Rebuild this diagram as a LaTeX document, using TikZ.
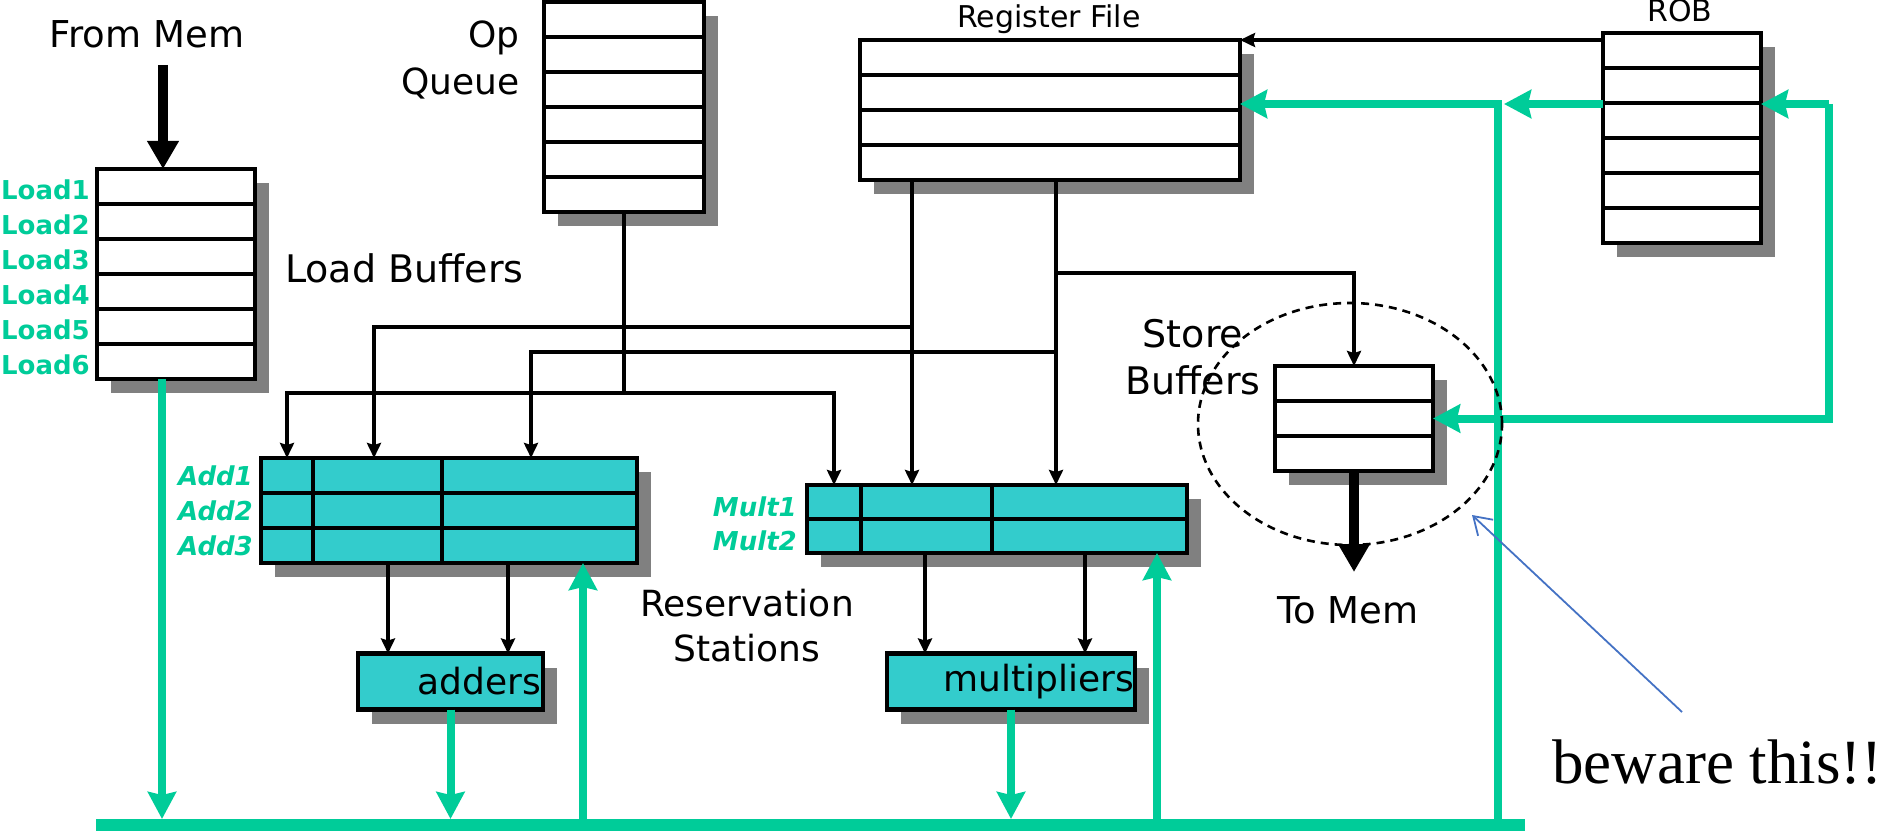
\documentclass[tikz,border=0pt]{standalone}
\usepackage{fontspec}
\setmainfont{DejaVu Sans}
\newfontfamily\notefont{Liberation Serif}
\usetikzlibrary{arrows.meta, shadows}

\definecolor{cdbgreen}{RGB}{0,204,153}
\definecolor{rsfill}{RGB}{51,204,204}
\definecolor{shade}{RGB}{128,128,128}
\definecolor{noteblue}{RGB}{68,114,196}

\begin{document}
\begin{tikzpicture}[x=1pt, y=-1pt]
	\tikzstyle{Row} = [rectangle, draw=black, line width=4.5pt, fill=white, inner sep=0pt, outer sep=0pt, minimum height=35pt, drop shadow={shadow xshift=14pt, shadow yshift=-14pt, fill=shade, opacity=1}]
	\tikzstyle{Cell} = [Row, fill=rsfill]
	\tikzstyle{Tag} = [text=cdbgreen, font=\bfseries\fontsize{26}{28}\selectfont, anchor=east, inner sep=0pt]
	\tikzstyle{ITag} = [Tag, font=\bfseries\itshape\fontsize{26}{28}\selectfont]
	\tikzstyle{Title} = [font=\fontsize{37}{45}\selectfont, inner sep=0pt]
	\tikzstyle{Small} = [font=\fontsize{30}{32}\selectfont, inner sep=0pt]
	\tikzstyle{arrow} = [line width=4pt, -{Stealth[length=15pt, width=14pt, inset=2pt]}]
	\tikzstyle{Fat} = [line width=10pt, -{Triangle[length=28pt, width=30pt]}]
	\tikzstyle{Cdb} = [line width=8pt, draw=cdbgreen, -{Stealth[length=27pt, width=28pt, inset=3pt]}, cdbgreen]

	\useasboundingbox (0,0) rectangle (1884,832);

	% load buffers
	\node (l1) [Row, minimum width=158pt] at (176,186.5) {};
	\node (l2) [Row, minimum width=158pt] at (176,221.5) {};
	\node (l3) [Row, minimum width=158pt] at (176,256.5) {};
	\node (l4) [Row, minimum width=158pt] at (176,291.5) {};
	\node (l5) [Row, minimum width=158pt] at (176,326.5) {};
	\node (l6) [Row, minimum width=158pt] at (176,361.5) {};
	\node [Tag] at (90,190) {Load1};
	\node [Tag] at (90,225) {Load2};
	\node [Tag] at (90,260) {Load3};
	\node [Tag] at (90,295) {Load4};
	\node [Tag] at (90,330) {Load5};
	\node [Tag] at (90,365) {Load6};
	\node (frommem) [Title, anchor=base] at (147,48) {From Mem};
	\node (loadtxt) [Title, font=\fontsize{38}{45}\selectfont, anchor=base west] at (285,282) {Load Buffers};

	% op queue
	\node (q1) [Row, minimum width=160pt] at (624,19.5) {};
	\node (q2) [Row, minimum width=160pt] at (624,54.5) {};
	\node (q3) [Row, minimum width=160pt] at (624,89.5) {};
	\node (q4) [Row, minimum width=160pt] at (624,124.5) {};
	\node (q5) [Row, minimum width=160pt] at (624,159.5) {};
	\node (q6) [Row, minimum width=160pt] at (624,194.5) {};
	\node (optxt) [Title, font=\fontsize{36}{47}\selectfont, anchor=north east, align=right] at (520,21) {Op\\Queue};

	% register file
	\node (r1) [Row, minimum width=380pt] at (1050,57.5) {};
	\node (r2) [Row, minimum width=380pt] at (1050,92.5) {};
	\node (r3) [Row, minimum width=380pt] at (1050,127.5) {};
	\node (r4) [Row, minimum width=380pt] at (1050,162.5) {};
	\node (rftxt) [Small, anchor=base] at (1049,28) {Register File};

	% reorder buffer
	\node (o1) [Row, minimum width=158pt] at (1682,50.5) {};
	\node (o2) [Row, minimum width=158pt] at (1682,85.5) {};
	\node (o3) [Row, minimum width=158pt] at (1682,120.5) {};
	\node (o4) [Row, minimum width=158pt] at (1682,155.5) {};
	\node (o5) [Row, minimum width=158pt] at (1682,190.5) {};
	\node (o6) [Row, minimum width=158pt] at (1682,225.5) {};
	\node (robtxt) [Small, anchor=base] at (1680,22) {ROB};

	% store buffers
	\node (s1) [Row, minimum width=158pt] at (1354,383.5) {};
	\node (s2) [Row, minimum width=158pt] at (1354,418.5) {};
	\node (s3) [Row, minimum width=158pt] at (1354,453.5) {};
	\node (sbtxt) [Title, font=\fontsize{38}{47}\selectfont, anchor=north, align=center] at (1193,319) {Store\\Buffers};
	\node (tomem) [Title, anchor=base] at (1348,623) {To Mem};

	% reservation stations (adders)
	\node (a11) [Cell, minimum width=52pt] at (287,475.5) {};
	\node (a12) [Cell, minimum width=129pt] at (377.5,475.5) {};
	\node (a13) [Cell, minimum width=195pt] at (539.5,475.5) {};
	\node (a21) [Cell, minimum width=52pt] at (287,510.5) {};
	\node (a22) [Cell, minimum width=129pt] at (377.5,510.5) {};
	\node (a23) [Cell, minimum width=195pt] at (539.5,510.5) {};
	\node (a31) [Cell, minimum width=52pt] at (287,545.5) {};
	\node (a32) [Cell, minimum width=129pt] at (377.5,545.5) {};
	\node (a33) [Cell, minimum width=195pt] at (539.5,545.5) {};
	\node [ITag] at (253,475.5) {Add1};
	\node [ITag] at (253,510.5) {Add2};
	\node [ITag] at (253,545.5) {Add3};

	% reservation stations (multipliers)
	\node (m11) [Cell, minimum width=54pt, minimum height=34pt] at (834,502) {};
	\node (m12) [Cell, minimum width=131pt, minimum height=34pt] at (926.5,502) {};
	\node (m13) [Cell, minimum width=195pt, minimum height=34pt] at (1089.5,502) {};
	\node (m21) [Cell, minimum width=54pt, minimum height=34pt] at (834,536) {};
	\node (m22) [Cell, minimum width=131pt, minimum height=34pt] at (926.5,536) {};
	\node (m23) [Cell, minimum width=195pt, minimum height=34pt] at (1089.5,536) {};
	\node [ITag] at (797,507) {Mult1};
	\node [ITag] at (797,541) {Mult2};
	\node (rstxt) [Title, font=\fontsize{36}{45}\selectfont, anchor=north, align=center] at (747,589) {Reservation\\Stations};

	% functional units
	\node (adders) [Cell, minimum width=185pt, minimum height=56pt, text width=181pt, align=right, font=\fontsize{36}{38}\selectfont] at (450.5,681.5) {adders};
	\node (mults) [Cell, minimum width=248pt, minimum height=56pt, text width=246pt, align=right, font=\fontsize{36}{38}\selectfont] at (1011,681.5) {multipliers};

	% wiring
	\coordinate (opj) at (624,393);
	\coordinate (ja) at (912,327);
	\coordinate (jb) at (1056,352);
	\coordinate (jc) at (1056,273);
	\draw [line width=4pt] (q6.south) -- (opj);
	\draw [arrow] (opj) -| (a11.north);
	\draw [arrow] (opj) -| (m11.north);
	\draw [arrow] ([xshift=-138pt]r4.south) -- ([xshift=-14.5pt]m12.north);
	\draw [arrow] ([xshift=6pt]r4.south) -- ([xshift=-33.5pt]m13.north);
	\draw [arrow] (ja) -| ([xshift=-3.5pt]a12.north);
	\draw [arrow] (jb) -| ([xshift=-8.5pt]a13.north);
	\draw [arrow] (jc) -| (s1.north);
	\draw [arrow] (o1.west |- r1.north) -- (r1.north east);
	\draw [arrow] ([xshift=30pt]adders.north west |- a31.south) -- ([xshift=30pt]adders.north west);
	\draw [arrow] ([xshift=150pt]adders.north west |- a31.south) -- ([xshift=150pt]adders.north west);
	\draw [arrow] ([xshift=38pt]mults.north west |- m21.south) -- ([xshift=38pt]mults.north west);
	\draw [arrow] ([xshift=198pt]mults.north west |- m21.south) -- ([xshift=198pt]mults.north west);
	\draw [Fat] ([xshift=-13pt, yshift=104pt]l1.north) -- ([xshift=-13pt]l1.north);
	\draw [Fat] (s3.south) -- ([yshift=-101pt]s3.south);

	% common data bus
	\coordinate (cdb) at (96,825);
	\coordinate (cdbe) at (1525,825);
	\coordinate (bustop) at (96,819);
	\coordinate (trunk) at (1498,825);
	\coordinate (rfin) at (1498,104);
	\coordinate (loop) at (1829,104);
	\draw [line width=12pt, cdbgreen] (cdb) -- (cdbe);
	\draw [Cdb] ([xshift=-14pt]l6.south) -- ([xshift=-14pt]l6.south |- bustop);
	\draw [Cdb] (adders.south) -- (adders.south |- bustop);
	\draw [Cdb] (mults.south) -- (mults.south |- bustop);
	\draw [Cdb] ([xshift=43.5pt]a33.south |- cdb) -- ([xshift=43.5pt]a33.south);
	\draw [Cdb] ([xshift=67.5pt]m23.south |- cdb) -- ([xshift=67.5pt]m23.south);
	\draw [Cdb] (trunk) -- (rfin) -- (rfin -| r2.east);
	\draw [Cdb] (rfin -| o2.west) -- ([xshift=6pt]rfin);
	\draw [Cdb] (loop) -- (loop -| o2.east);
	\draw [Cdb] (loop) |- (s2.east);

	% warning
	\draw [dashed, dash pattern=on 8pt off 6pt, line width=2.6pt] (1350,424) ellipse [x radius=152pt, y radius=121pt];
	\node (beware) [anchor=base west, inner sep=0pt, font=\notefont\fontsize{63}{70}\selectfont] at (1552,783) {beware this!!};
	\coordinate (note) at (1682,712);
	\coordinate (tip) at (1472,515);
	\draw [noteblue, line width=1.8pt, -{Straight Barb[length=17pt, width=22pt]}] (note) -- (tip);
\end{tikzpicture}
\end{document}
